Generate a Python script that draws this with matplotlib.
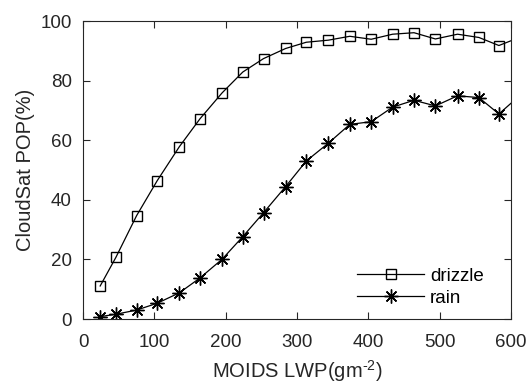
import matplotlib.pyplot as plt
import numpy as np

plt.rcParams['font.family'] = ['Liberation Sans', 'DejaVu Sans']
plt.rcParams['mathtext.fontset'] = 'custom'
plt.rcParams['mathtext.rm'] = 'Liberation Sans'

# MODIS LWP bin centres (g m^-2)
lwp = [24, 46, 75, 104, 135, 164, 195, 224, 253, 284,
       313, 344, 374, 404, 434, 464, 494, 525, 555, 583]
drizzle = [11.1, 20.7, 34.7, 46.5, 57.9, 67.3, 76.0, 83.0, 87.5, 90.9,
           93.0, 93.7, 95.0, 94.0, 95.7, 96.2, 94.1, 95.7, 94.6, 91.9]
rain = [0.8, 1.6, 3.0, 5.3, 8.8, 13.8, 20.1, 27.7, 35.7, 44.5,
        53.1, 59.1, 65.4, 66.3, 71.2, 73.5, 71.6, 75.0, 74.4, 68.9]
# curve values where the lines leave the axes at x = 600
x_end = 600
drizzle_end = 93.5
rain_end = 72.5

fig = plt.figure(figsize=(5.29, 3.85), dpi=100)
ax = fig.add_axes([0.157, 0.1714, 0.809, 0.773])

n = len(lwp)
ax.plot(lwp + [x_end], drizzle + [drizzle_end], '-', color='black', lw=0.9,
        marker='s', ms=7, mfc='none', mec='black', mew=1.0,
        markevery=list(range(n)), label='drizzle')
ax.plot(lwp + [x_end], rain + [rain_end], '-', color='black', lw=0.9,
        marker=(8, 2, 0), ms=10, mec='black', mew=1.0,
        markevery=list(range(n)), label='rain')

ax.set_xlim(0, 600)
ax.set_ylim(0, 100)
ax.set_xticks(np.arange(0, 601, 100))
ax.set_yticks(np.arange(0, 101, 20))
ax.tick_params(direction='in', top=True, right=True, length=5, width=0.8,
               labelsize=13.5, colors='#262626')
ax.tick_params(axis='x', pad=11)
ax.tick_params(axis='y', pad=8)
for s in ax.spines.values():
    s.set_color('#262626')
    s.set_linewidth(0.8)

ax.set_xlabel('MOIDS LWP(gm$^{\u2010 2}$)', fontsize=14.5, color='#262626', labelpad=5)
ax.set_ylabel('CloudSat POP(%)', fontsize=14.5, color='#262626', labelpad=4)

ax.legend(loc='lower right', bbox_to_anchor=(0.965, 0.0), frameon=False,
          fontsize=13.5, handlelength=3.6, handletextpad=0.3,
          labelspacing=0.25, borderaxespad=0.25)

fig.savefig('out.png', dpi=100)
